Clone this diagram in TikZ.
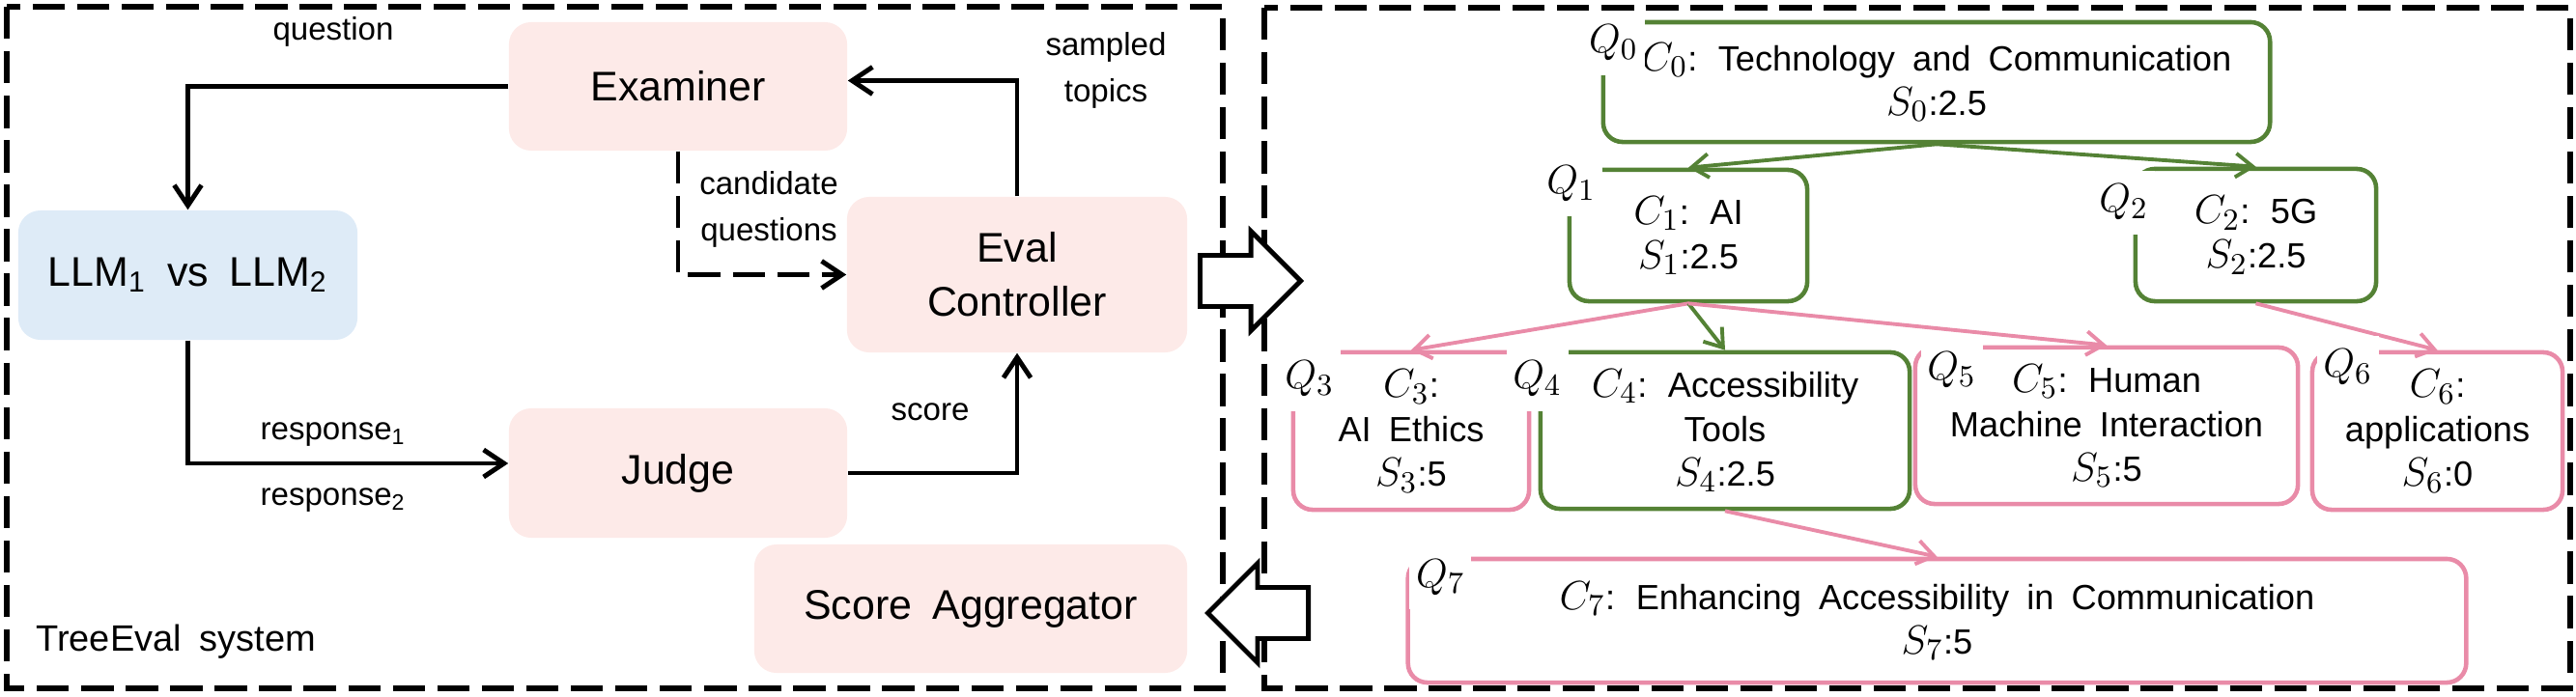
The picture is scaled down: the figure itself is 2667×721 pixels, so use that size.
\documentclass[tikz,border=0pt]{standalone}
\usepackage[no-math]{fontspec}
\setmainfont{Liberation Sans}[WordSpace=1.8]
\usetikzlibrary{arrows.meta,shapes.arrows}
\DeclareMathSizes{11.5}{11.5}{9.5}{7.5}
\definecolor{boxpink}{RGB}{253,234,232}
\definecolor{boxblue}{RGB}{222,235,247}
\definecolor{treegreen}{RGB}{84,130,53}
\definecolor{treepink}{RGB}{233,139,168}
\newcommand{\mth}[1]{{\fontsize{11.5}{13}\selectfont$#1$}}
\tikzset{
  module/.style   = {shape=rectangle, rounded corners=0.23cm, fill=boxpink,
                     align=center, font=\fontsize{12.2}{16}\selectfont,
                     minimum width=3.5cm, minimum height=1.33cm},
  agent/.style    = {module, fill=boxblue},
  flow/.style     = {draw, line width=1.4pt, -{Straight Barb[length=6pt,width=8pt]}},
  note/.style     = {align=center, font=\fontsize{9.4}{13.4}\selectfont},
  panel/.style    = {draw, line width=1.5pt, dash pattern=on 9.5pt off 3.6pt},
  topic/.style    = {shape=rectangle, rounded corners=0.2cm, draw, line width=1.3pt,
                     align=center, font=\fontsize{10.3}{13.1}\selectfont},
  expanded/.style = {topic, draw=treegreen},
  leaf/.style     = {topic, draw=treepink},
  qlabel/.style   = {fill=white, inner sep=0pt, minimum width=0.64cm,
                     minimum height=0.66cm, font=\fontsize{11.5}{13}\selectfont},
  branch/.style   = {draw, line width=1.1pt, -{Straight Barb[length=5pt,width=7pt]}},
  hollow/.style   = {single arrow, draw, fill=white, line width=1.4pt, inner sep=0.24cm,
                     minimum height=1.04cm, single arrow head extend=0.25cm}
}

\begin{document}
\begin{tikzpicture}[x=0.01cm, y=-0.01cm]
  \useasboundingbox (0,0) rectangle (2667,721);
  \draw [panel] (7,7) rectangle (1266,713);
  \draw [panel] (1309,8) rectangle (2661,713);

  \node [module] (exam) at (702,89.5) {Examiner};
  \node [agent, minimum width=3.51cm, minimum height=1.34cm] (llm) at (194.5,285)
        {LLM\textsubscript{1} vs LLM\textsubscript{2}};
  \node [module, minimum height=1.34cm] (judge) at (702,490) {Judge};
  \node [module, minimum width=3.52cm, minimum height=1.61cm] (eval) at (1053,284.5)
        {Eval\\Controller};
  \node [module, minimum width=4.48cm] (agg) at (1005,630.5) {Score Aggregator};

  \draw [flow] (exam.west) -| (llm.north);
  \draw [flow] (llm.south) |- ([yshift=0.1cm]judge.west);
  \draw [flow] (judge.east) -| (eval.south);
  \draw [flow] (eval.north) |- ([yshift=0.06cm]exam.east);
  \draw [flow, dash pattern=on 9.5pt off 3.6pt] (exam.south) |- (eval.west);

  \node [note] (qtext)  at (345,33)   {question};
  \node [note] (r1text) at (345,450)  {response\textsubscript{1}};
  \node [note] (r2text) at (345,518)  {response\textsubscript{2}};
  \node [note] (stext)  at (963,427)  {score};
  \node [note] (ttext)  at (1145,73)  {sampled\\topics};
  \node [note] (ctext)  at (796,217)  {candidate\\questions};
  \node [note, anchor=west, font=\fontsize{10.8}{13}\selectfont] (sys) at (25,665)
        {TreeEval system};

  \node [hollow, anchor=tip] (fwd) at (1350,291) {};
  \node [hollow, shape border rotate=180, anchor=tip] (bwd) at (1247,635) {};

  \node [expanded, minimum width=6.9cm, minimum height=1.24cm] (c0) at (2005,85)
        {\mth{C_0}: Technology and Communication\\\mth{S_0}:2.5};
  \node [expanded, minimum width=2.46cm, minimum height=1.36cm] (c1) at (1748,244)
        {\mth{C_1}: AI\\\mth{S_1}:2.5};
  \node [expanded, minimum width=2.49cm, minimum height=1.37cm] (c2) at (2335.5,243.5)
        {\mth{C_2}: 5G\\\mth{S_2}:2.5};
  \node [leaf, minimum width=2.44cm, minimum height=1.63cm] (c3) at (1461,446.5)
        {\mth{C_3}:\\AI Ethics\\\mth{S_3}:5};
  \node [expanded, minimum width=3.82cm, minimum height=1.62cm] (c4) at (1786,446)
        {\mth{C_4}: Accessibility\\Tools\\\mth{S_4}:2.5};
  \node [leaf, minimum width=3.96cm, minimum height=1.62cm] (c5) at (2181,441)
        {\mth{C_5}: Human\\Machine Interaction\\\mth{S_5}:5};
  \node [leaf, minimum width=2.59cm, minimum height=1.63cm] (c6) at (2523.5,446.5)
        {\mth{C_6}:\\applications\\\mth{S_6}:0};
  \node [leaf, minimum width=10.95cm, minimum height=1.28cm] (c7) at (2005.5,643)
        {\mth{C_7}: Enhancing Accessibility in Communication\\\mth{S_7}:5};

  \foreach \a/\b/\c in {c0/c1/treegreen, c0/c2/treegreen, c1/c3/treepink,
                        c1/c4/treegreen, c1/c5/treepink, c2/c6/treepink, c4/c7/treepink}
    \draw [branch, \c] (\a.south) -- (\b.north);

  \foreach \i/\dx/\dy in {0/13/24, 1/4/17, 2/-10/37, 3/19/30,
                          4/-1/30, 5/40/26, 6/39/18, 7/36/21}
    \node [qlabel] (q\i) at ([shift={(\dx,\dy)}]c\i.north west) {$Q_\i$};
\end{tikzpicture}
\end{document}
